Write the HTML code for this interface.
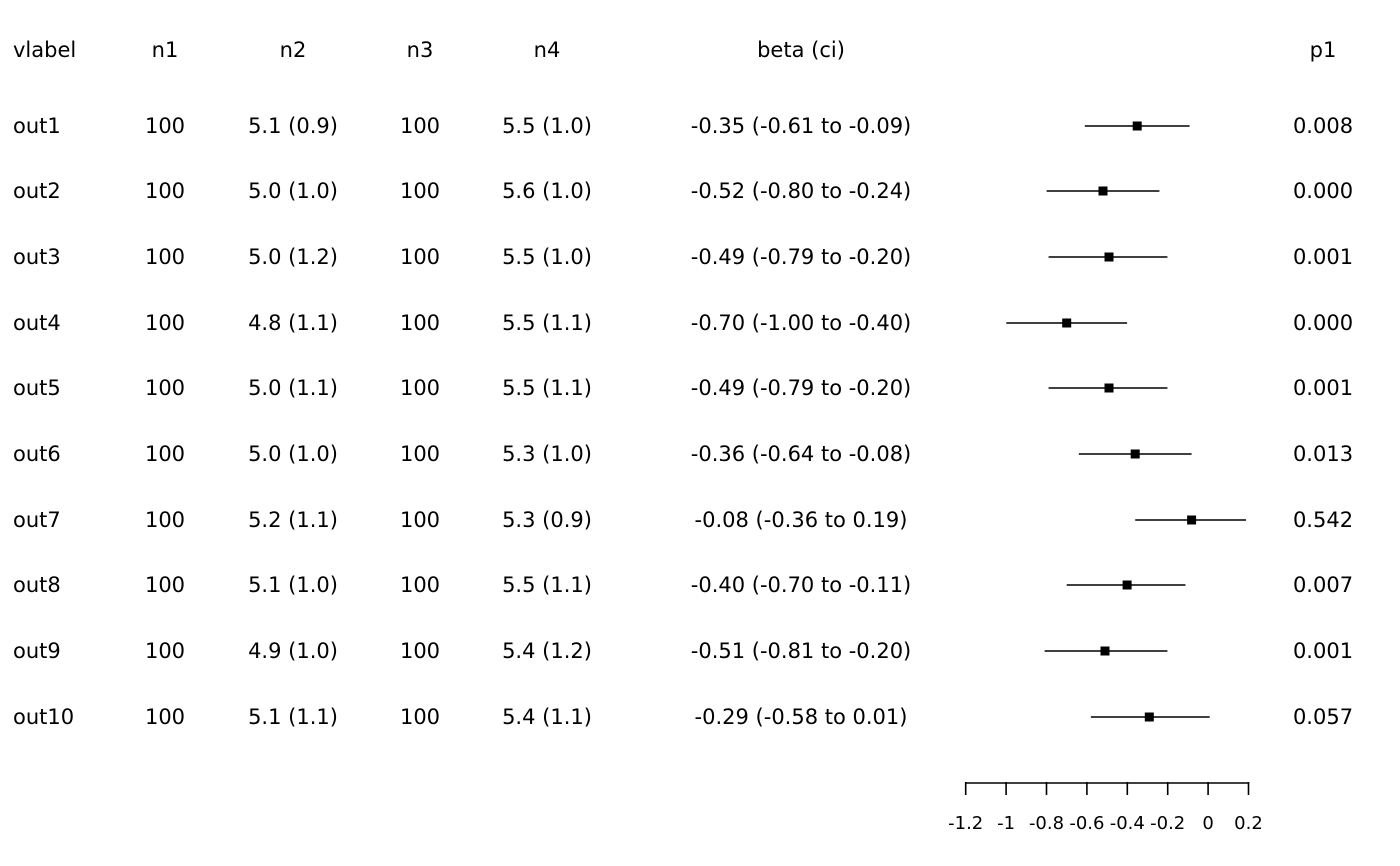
<!DOCTYPE html>
<html><head><meta charset="utf-8"><style>
html,body{margin:0;padding:0;background:#fff;}
svg{display:block;}
text{font-family:"DejaVu Sans","Liberation Sans",sans-serif;font-size:21px;fill:#000;}
.t{font-size:18px;}
</style></head><body>
<svg width="1400" height="866" xmlns="http://www.w3.org/2000/svg">
<g text-anchor="middle">
<text x="13" y="57" text-anchor="start">vlabel</text>
<text x="165" y="57">n1</text><text x="293" y="57">n2</text><text x="420" y="57">n3</text><text x="547" y="57">n4</text>
<text x="801" y="57">beta (ci)</text><text x="1323" y="57">p1</text>

<text x="13" y="133" text-anchor="start">out1</text><text x="165" y="133">100</text><text x="293" y="133">5.1 (0.9)</text><text x="420" y="133">100</text><text x="547" y="133">5.5 (1.0)</text><text x="801" y="133">-0.35 (-0.61 to -0.09)</text><text x="1323" y="133">0.008</text>
<text x="13" y="198" text-anchor="start">out2</text><text x="165" y="198">100</text><text x="293" y="198">5.0 (1.0)</text><text x="420" y="198">100</text><text x="547" y="198">5.6 (1.0)</text><text x="801" y="198">-0.52 (-0.80 to -0.24)</text><text x="1323" y="198">0.000</text>
<text x="13" y="264" text-anchor="start">out3</text><text x="165" y="264">100</text><text x="293" y="264">5.0 (1.2)</text><text x="420" y="264">100</text><text x="547" y="264">5.5 (1.0)</text><text x="801" y="264">-0.49 (-0.79 to -0.20)</text><text x="1323" y="264">0.001</text>
<text x="13" y="330" text-anchor="start">out4</text><text x="165" y="330">100</text><text x="293" y="330">4.8 (1.1)</text><text x="420" y="330">100</text><text x="547" y="330">5.5 (1.1)</text><text x="801" y="330">-0.70 (-1.00 to -0.40)</text><text x="1323" y="330">0.000</text>
<text x="13" y="395" text-anchor="start">out5</text><text x="165" y="395">100</text><text x="293" y="395">5.0 (1.1)</text><text x="420" y="395">100</text><text x="547" y="395">5.5 (1.1)</text><text x="801" y="395">-0.49 (-0.79 to -0.20)</text><text x="1323" y="395">0.001</text>
<text x="13" y="461" text-anchor="start">out6</text><text x="165" y="461">100</text><text x="293" y="461">5.0 (1.0)</text><text x="420" y="461">100</text><text x="547" y="461">5.3 (1.0)</text><text x="801" y="461">-0.36 (-0.64 to -0.08)</text><text x="1323" y="461">0.013</text>
<text x="13" y="527" text-anchor="start">out7</text><text x="165" y="527">100</text><text x="293" y="527">5.2 (1.1)</text><text x="420" y="527">100</text><text x="547" y="527">5.3 (0.9)</text><text x="801" y="527">-0.08 (-0.36 to 0.19)</text><text x="1323" y="527">0.542</text>
<text x="13" y="592" text-anchor="start">out8</text><text x="165" y="592">100</text><text x="293" y="592">5.1 (1.0)</text><text x="420" y="592">100</text><text x="547" y="592">5.5 (1.1)</text><text x="801" y="592">-0.40 (-0.70 to -0.11)</text><text x="1323" y="592">0.007</text>
<text x="13" y="658" text-anchor="start">out9</text><text x="165" y="658">100</text><text x="293" y="658">4.9 (1.0)</text><text x="420" y="658">100</text><text x="547" y="658">5.4 (1.2)</text><text x="801" y="658">-0.51 (-0.81 to -0.20)</text><text x="1323" y="658">0.001</text>
<text x="13" y="724" text-anchor="start">out10</text><text x="165" y="724">100</text><text x="293" y="724">5.1 (1.1)</text><text x="420" y="724">100</text><text x="547" y="724">5.4 (1.1)</text><text x="801" y="724">-0.29 (-0.58 to 0.01)</text><text x="1323" y="724">0.057</text>

<text class="t" x="965.7" y="829">-1.2</text><text class="t" x="1006.1" y="829">-1</text><text class="t" x="1046.5" y="829">-0.8</text><text class="t" x="1086.9" y="829">-0.6</text><text class="t" x="1127.3" y="829">-0.4</text><text class="t" x="1167.7" y="829">-0.2</text><text class="t" x="1208.1" y="829">0</text><text class="t" x="1248.5" y="829">0.2</text>
</g>
<g stroke="#000" stroke-width="1.6" fill="none">
<line x1="1084.8" y1="126" x2="1189.6" y2="126"/>
<line x1="1046.6" y1="191" x2="1159.4" y2="191"/>
<line x1="1048.6" y1="257" x2="1167.4" y2="257"/>
<line x1="1006.3" y1="323" x2="1127.1" y2="323"/>
<line x1="1048.6" y1="388" x2="1167.4" y2="388"/>
<line x1="1078.8" y1="454" x2="1191.6" y2="454"/>
<line x1="1135.2" y1="520" x2="1246.0" y2="520"/>
<line x1="1066.7" y1="585" x2="1185.5" y2="585"/>
<line x1="1044.6" y1="651" x2="1167.4" y2="651"/>
<line x1="1090.9" y1="717" x2="1209.7" y2="717"/>
<line x1="965.7" y1="783" x2="1248.5" y2="783"/>
<line x1="965.7" y1="782" x2="965.7" y2="795"/>
<line x1="1006.1" y1="782" x2="1006.1" y2="795"/>
<line x1="1046.5" y1="782" x2="1046.5" y2="795"/>
<line x1="1086.9" y1="782" x2="1086.9" y2="795"/>
<line x1="1127.3" y1="782" x2="1127.3" y2="795"/>
<line x1="1167.7" y1="782" x2="1167.7" y2="795"/>
<line x1="1208.1" y1="782" x2="1208.1" y2="795"/>
<line x1="1248.5" y1="782" x2="1248.5" y2="795"/>
</g>
<g fill="#000">
<rect x="1132.7" y="121.5" width="9" height="9"/>
<rect x="1098.5" y="186.5" width="9" height="9"/>
<rect x="1104.5" y="252.5" width="9" height="9"/>
<rect x="1062.2" y="318.5" width="9" height="9"/>
<rect x="1104.5" y="383.5" width="9" height="9"/>
<rect x="1130.7" y="449.5" width="9" height="9"/>
<rect x="1187.1" y="515.5" width="9" height="9"/>
<rect x="1122.6" y="580.5" width="9" height="9"/>
<rect x="1100.5" y="646.5" width="9" height="9"/>
<rect x="1144.8" y="712.5" width="9" height="9"/>
</g>
</svg>
</body></html>
